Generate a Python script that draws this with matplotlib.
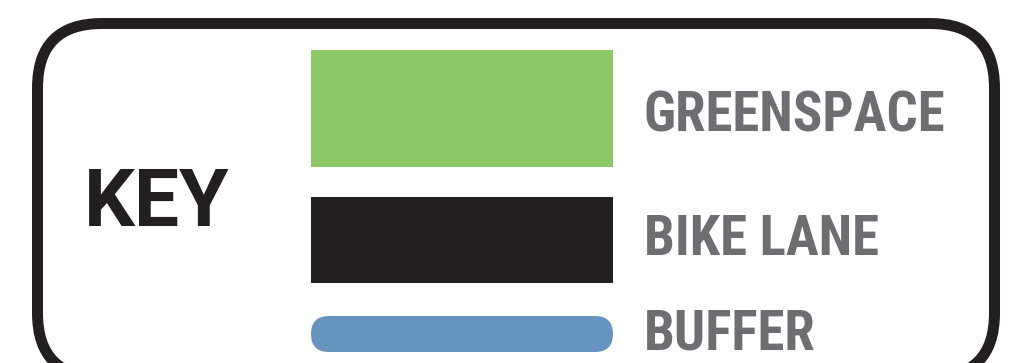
import matplotlib.pyplot as plt
from matplotlib.patches import FancyBboxPatch, Rectangle

# legend entries
labels = ['GREENSPACE', 'BIKE LANE', 'BUFFER']
colors = ['#8cc866', '#231f20', '#6794bf']
title = 'KEY'

fig = plt.figure(figsize=(10.14, 3.63), dpi=100)
ax = fig.add_axes([0, 0, 1, 1])
ax.set_xlim(0, 1014)
ax.set_ylim(363, 0)
ax.axis('off')

# outer rounded frame, its bottom runs off the image
# (filled white so agg does not clip the curves into straight lines)
r = 64.5
left, right, top, bottom = 37.5, 994.5, 23.5, 377.5
ax.add_patch(FancyBboxPatch((left + r, top + r), right - left - 2 * r, bottom - top - 2 * r,
                            boxstyle=f'round,pad={r}', fc='white', ec='#231f20',
                            lw=7.9, zorder=0))

# swatches
ax.add_patch(Rectangle((311, 50), 302, 117, fc=colors[0], ec='none'))
ax.add_patch(Rectangle((311, 197), 302, 86, fc=colors[1], ec='none'))
ax.add_patch(FancyBboxPatch((311 + 18, 316 + 18), 302 - 36, 0,
                            boxstyle='round,pad=18', fc=colors[2], ec='none'))

ax.text(84, 226, title, fontsize=57.7, fontweight='bold',
        family=['Roboto', 'Liberation Sans'], color='#231f20', va='baseline', ha='left')
for lab, y in zip(labels, [132, 255, 349]):
    ax.text(644, y, lab, fontsize=39.5, fontweight='bold',
            family=['Roboto Condensed', 'Liberation Sans'], color='#6d6e71',
            va='baseline', ha='left')

fig.savefig('out.png', dpi=100)
